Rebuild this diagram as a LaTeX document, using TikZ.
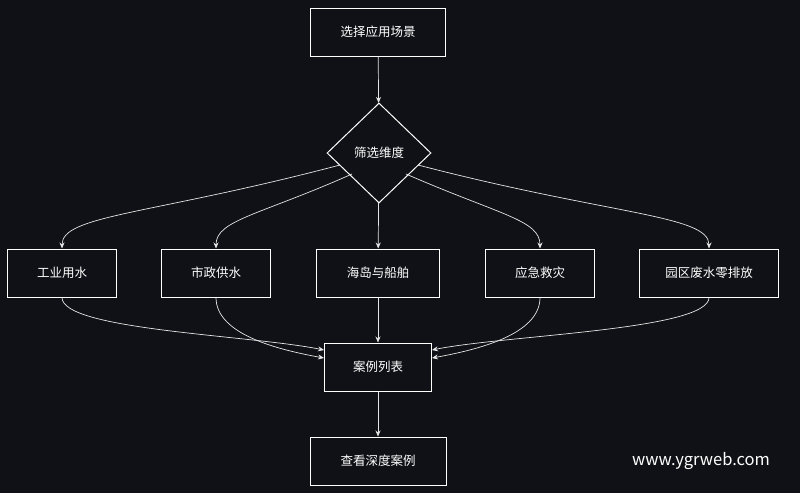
\documentclass[tikz,border=0pt]{standalone}
\usepackage{fontspec}
\setmainfont{Noto Sans CJK SC}
\usetikzlibrary{shapes.geometric,arrows.meta}
\definecolor{bg}{HTML}{101116}
\begin{document}
\begin{tikzpicture}[x=1pt,y=-1pt,
  box/.style={draw=white,line width=1pt,text=white,font=\fontsize{12.5}{14}\selectfont,inner sep=0pt,minimum height=48pt},
  arr/.style={draw=white!90!black,line width=0.7pt,-{Stealth[length=6pt,width=5pt]}}]
\fill[bg] (0,0) rectangle (800,493);
\useasboundingbox (0,0) rectangle (800,493);
\node[box,minimum width=135pt] (a) at (378,32) {选择应用场景};
\node[box,diamond,minimum width=104pt,minimum height=100pt,aspect=1] (d) at (379,153) {筛选维度};
\node[box,minimum width=109pt] (b1) at (62,273) {工业用水};
\node[box,minimum width=109pt] (b2) at (216,273) {市政供水};
\node[box,minimum width=123pt] (b3) at (378,273) {海岛与船舶};
\node[box,minimum width=109pt] (b4) at (540,273) {应急救灾};
\node[box,minimum width=139pt] (b5) at (709,273) {园区废水零排放};
\node[box,minimum width=107pt] (c) at (378,367) {案例列表};
\node[box,minimum width=136pt] (e) at (378,461) {查看深度案例};
\node[text=white,font=\fontsize{16.5}{18}\selectfont] (w) at (701,461) {www.ygrweb.com};
\coordinate (d1) at (340,165);
\coordinate (d2) at (352,174);
\coordinate (d4) at (406,174);
\coordinate (d5) at (418,165);
\draw[arr] (a) -- (d);
\draw[arr] (d1) .. controls (150,215) and (62,215) .. (b1.north);
\draw[arr] (d2) .. controls (260,215) and (216,220) .. (b2.north);
\draw[arr] (d) -- (b3);
\draw[arr] (d4) .. controls (500,215) and (540,220) .. (b4.north);
\draw[arr] (d5) .. controls (610,215) and (709,215) .. (b5.north);
\draw[arr] (b1.south) .. controls (62,330) and (250,335) .. (c.west|-0,350);
\draw[arr] (b2.south) .. controls (216,335) and (280,350) .. (c.west|-0,358);
\draw[arr] (b3) -- (c);
\draw[arr] (b4.south) .. controls (540,335) and (476,350) .. (c.east|-0,358);
\draw[arr] (b5.south) .. controls (709,330) and (506,335) .. (c.east|-0,350);
\draw[arr] (c) -- (e);
\end{tikzpicture}
\end{document}
